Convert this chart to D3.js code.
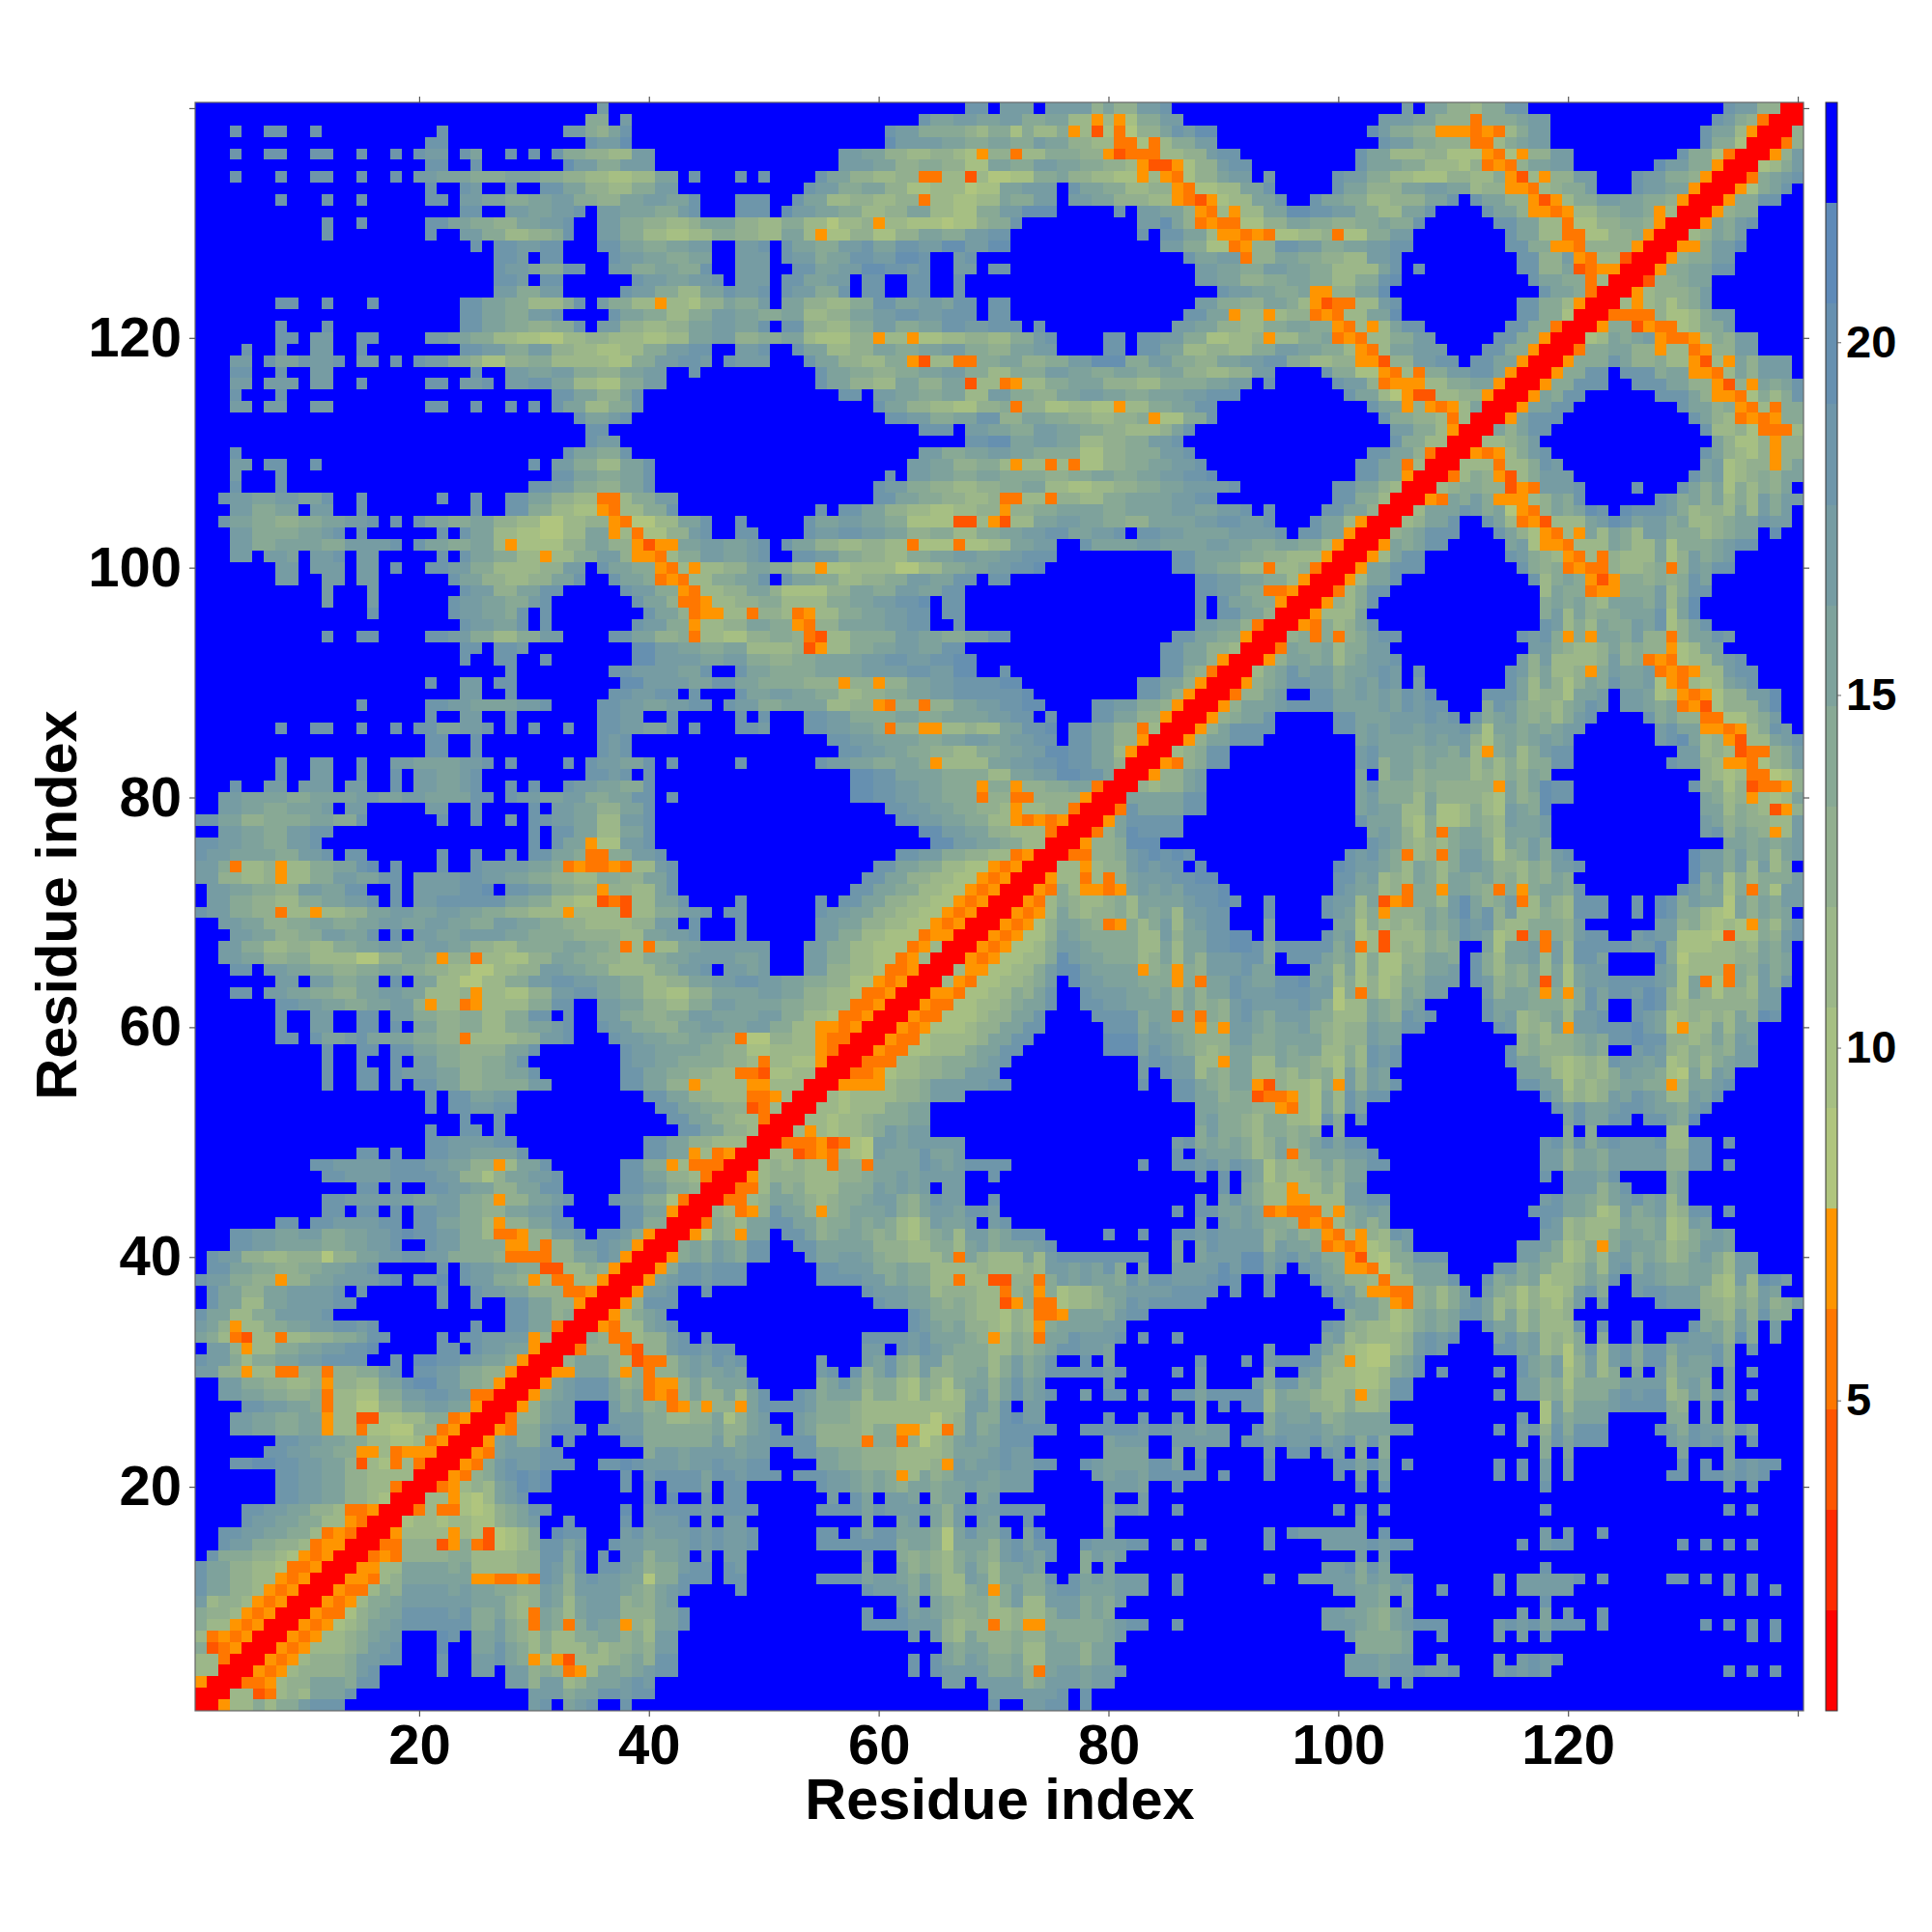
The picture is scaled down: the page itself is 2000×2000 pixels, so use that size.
<![CDATA[<!DOCTYPE html>
<html><head><meta charset="utf-8"><style>html,body{margin:0;background:#fff}svg{display:block}
text{font-family:"Liberation Sans",Arial,sans-serif;font-weight:700;fill:#000}</style>
<script src="https://cdn.jsdelivr.net/npm/d3@7/dist/d3.min.js"></script></head><body>
<svg id="c" width="2000" height="2000"></svg>
<script>
// Distance levels, lowest to highest (one letter per colour band)
const levelKeys = "rstuvabcdefghijz";
const bandColors = ["#ff0000","#ff2a00","#ff5500","#ff7700","#ff9500","#b0c57e","#a6bf83","#9cb789","#92af8f","#88a995","#7ea29c","#769ca3","#6e96aa","#6690b0","#5e8ab8","#0000ff"];
const distanceExtent = [0.6, 23.4];
const colorbarTicks = [5,10,15,20];
const axisTicks = [20,40,60,80,100,120,140];
const labelTicks = [20,40,60,80,100,120];
const residueCount = 140;
// Upper-left half of the symmetric map, rows from residue 140 to residue 1.
// Each token "<x><level>" means: from residue x on, this band.
const matrixRows = [
"1z36g37z68h70z71g74z75g79d80f81d83g85h86z106g107z108f110d112c113e115h117z134h135g137d139r",
"1z35e37z38g39z64h65f67g69f71g73e75f77c79v80c81v82b83e85g87z104g106g107f109d112u113e116f117g119z133h134g135e136d137u138r",
"1z4h5z7h9z11h12z22h23z33g35e36d37f38h39z61h62g64e68d69c70e72b73e74c76e77v78c79t80b81u82a83d85f86h87g88i90z103i104g105e107d109v112u113v114u115c116e117g119z132h133f135c136v137r",
"1z21h23z35h36g38i39z61i62g66f68e70f72e74g75f77d79c81u83b84u85c86e88g90z104h105g107e109d112u114c115e116f117g119z132h133e135b136r",
"1z4h5z7h9z11h13z15h16z18h19z20h21g23z24h25f26z28h29z30h31z32h33e35d37c39g41z57g59f61d63c65d67c68b69v70d72u73c75e78d80v81t82u85c87d89g90h92z102h103f105c108d110b113v114u115b116v117d119g121z130h131e133b134u135r",
"1z21h23z25h26z33i34g36e38g41z57g60f62d64e66d68b70f72e74g76f78e80d82c83v84t86v87b88d90g91h93z102h103f106e108c111b112d113u114v115u116d117f119g121z128i129g131e133v134r",
"1z4h5z8h9z11h13z15h16z18h19z20g22f25e28f31e33d35c37b39c41f43z44h45z48h49z50h51z55h56f58d60c62d64u66c68t69c70a72b74e76f77d79c81b83v84c85v86u87b88d90f91g93z94g95z100h101g103e105c107b110d112c114e115v116t117c118v119d121g123z126h127g129e131d132v133r",
"1z21h22z24h25g26z28h29z31h33f35d37c39e41g43z54h55g57e59f61d63b65c68a69b71f73g76z77h78f80e82c84d86v87u88b90c92f94h95z100h101f103d106f108g110f112c113d115v117u118c119d120e122g123z126h127g129f131v132r",
"1z8h9z12h13z15h16z21h23z24g26f28e30f32g34e36d38f40g42f44h45z48h51z53h54f56c58d60c62d64u65c67b69c71f72e74g76z77g79f81d84c86v87u88t89v90b91c93f95h96z98h99f101e103c105d108f110h111z112h113f115d117v118t119v120c121e123g125f127e129d130v131r",
"1z24h26z28g30f32g34h35z36g38f41e43g44h45z48h51z52i53g55f57e59c61d63f65c67b69e71g73i76z81h82z83g85f87d88v89u90c91v92c94f96i98h100g102e104c106f108h109z113h114f116d117v119u120v121c123e125f127e128v129c130r",
"1z12h13z15h16z21h23f25e27d29f31g33h34z36g38e40d42c44d45f48d50c52e54c56a57c59d60v61c63b66a67b69d70e72h73z83g85i86f87d88u89v90u92b94d96f98e100d102e104f105e107h108z114h116f118c120u121b123d125e127d128v129r",
"1z12h13z21h22z24g26e28c30d32e33h34z36g38e40c42b44c46e48d50c52f54c55v56b58d60b62d64f66e68g70h72z83h84z85h87f89c90v92u93v94u95b97c99d100u101b103e105g107z115h116f118c120u122b124d126e127v128r",
"1z25h26z27h29g31h33z36h38f40e42f44g46z48g50h51z52h53f55e57g59h60f62h64g66i68g70i72z85g87e89b91u92v93d95h97g99e101f103g105h107z115h117e119v121u122d124d126v127r",
"1z27h29g30z31h33z37h38g40f42e44f46z48g51z52h53g55e56f58h60g62i64h65z67g68h69z87h88f90g92u93d95f97e99d101c103g105h106z116h118d120g121v122u123c125t126r",
"1z27h28g30f31e33h35z37g39e41f43e45h46z48g51z53h55f57g59i61h63g64h65z67g69z70h72z88g90f92e94g96f98e100c104f105h106z107h108z116h118d120f121t122u123v125r",
"1z27h29g30z31h33z39h40g42f44g46h47z48g51z52h54f56g58z59h61z63h65z67h68z88g90f92d94e96f98e100c102e104h105i106z117h118f120e122u123c124r",
"1z27g29e31g33z38h39g41e43c45f47h48g50h51z52h53g55e57h58z59h61z63h65z67h68z90h91g93f95e97f98v100d102f104i105z118h119f121e122u123r",
"1z8h10z12h13z16h17z24h26f28e30c33e34h35z36g37e39c41v42c44b45d47f48e50g51z52f54d56c58e60h62f64g66f67h69z70h72z88g90e92d94f96e97c98v99t100u102c104g105h106z116h118e120c121v122r",
"1z24h26f28e30g32h33z37h38f40e42c44e46g48f50e52f54c56d58f60g62h64g66h69z70h72z87h89f91v92c94v95c96d98u99v100u101c103f105i106z116h118e120b121r",
"1z8h9z12h13z24h26f28e30d32e34h35z36g38d40c42d44f46g48f50h51z52h54d56c58e60g62e64f66h68g70h73z74h75z86g88f90d92c94e96f98e100v101u102c103v104c105f106h108z115h117e119u120r",
"1z8h10z11g13z15h17z21g23f25e27c29b31a33c35d37c40b42c44f46g48d50e52f54c55b58d60v61c63v64b66c68d70c72e74g75h76z80h82z83h85g87e89b91c93d94v95c97e99f100u101v102u103c105e107g109z114h116e118v119r",
"1z5h6z8h9z11g13z15h16z24h26g28e30g32d34c36b38c40e42g44h46z48g50h51z53h54f56c58d60f62e64f66g68e70d72f74g76z80h82z83h85f87c89d91c93e95g97f99e101c102v103u104c105f107g110z113h115e117v118r",
"1z4g6z7h8f10h11g13h14z15g17z18h19z20h21g23e25d26b28d30e32c37b39e41g43h45g46z47h48g51z54h55f57d59c61e63v64t65c67u69e71f73d75e77g79i82e84g86e88d90f92g94h96e98c100d102v104t105d107g109h111z112h114f116v117r",
"1z4h6z8h9z11g13z25h26z28g30f32g34e36d38f40g42z44h45z55h56f58e60d62e64f66g68e70c72e75g77f79e81f83e85f87d89c91d93g95z99h100e102b104v105u106c107u108e110g112h114f115v116r",
"1z4g6z7g10z11g13z15h16z21h23z24g26h27z28g30h32f34c36b38e40g42z55h56f58d60c62f64d66f68t69c71u72v73c75e77f80d83c85e89f91g93z94h95z100h101g103d104u105v108c110e112f114v115r",
"1z4h5z8h9z32h34f36d38f39h40z57h59z60g62f64e66f68c70g72e74d76f78g80f82e84f87g89h92z101h102f104c105a106v107t109c111d113v114r",
"1z4g6z7g9z11g13z21h23z25h26z28h29z30h31z32h33f35c37e39h40z60h61f63d65c67b69d71e72u73d75b77c79b81v82c84e86f88h90z103h104f106v107d108v109u110v111c112f113r",
"1z34h35f37g38h39z61h63g65e67f69h71d73f75e77d79c81d83e84v85b87e89h90z104h105e107d109c110u111c112r",
"1z35h37z64h67z68g70f72e74g76f78e80d82c85d86f87h88z105g107e109c110v111r",
"1z35h36g38z68h70i72f74g76f78c80d82e84g86h87z105h106e108c110r",
"1z4h5z33h34f36e38h39z64g66e68f70g72f74e76e78b80d82e85g87h88z103h105f107d108u109r",
"1z4g6z7h9z11h12z30h31z32g34e36c38f40h41z63g65f67d69e71c72v73c75u76c77u78b80d82e84f86g88h89z102h104f106u107c108r",
"1z4g5z8h9z32h34f36e38f40h41z61h62z63g65f67e69f71e75d77e79f81e83f85g87h89i90z102h104f106v107r",
"1z4h5z8h9z30h32g34e36d38f40h41z60h61g63e65d67c69d71e73f75c77b79c81d83e85f87g91h92z100h102f104d105c106r",
"1z3h4g6f8g10f12h13z15h16z22h23z25h26z28h30f32d34c36u38c39e41g43z60h62f64e66d68c70d71u73c75u76d78c80e82f84f86g88h90z100h102e104c105r",
"1z4g6e8f10z11g13z15h16z25h26z28h30e32c34b36v37u38c40e42h43z55h56z57h59f61d63c65b67c69d71v72d74e76f80e82f84f86g88f90g92h93z94h95z99h101f103d104r",
"1z3h4f6e8d10e12f14g16h17z18h19z20h21f23e25f27d29c31a33c35d37v38u39a41c43f45h46z48h49z54h55f57g59f61e63b67t69c70v71t72c74f76g78f80e82d84f88g90h92g94h95z98h99f101c102v103r",
"1z4g6e10f12g13h14z15h16z22h23z24h25f27c29b31a33c35f37v38c39u40b42d44g45h46z48h50z54h55g57h59g61f63d65e67c69e71f73g75h77f79g81h82z83h85g87f91g95h96z97h99f101v102r",
"1z4g6e8f12e14g18h19z20h21f23e25f27c28v29b33d35f37d39v40t41v43f45g47f49g50h51z52h53f55d57c59d61c63u64b67u68b70c72f74g76z78h79f83g85f89g91f93e95f97e99c100v101r",
"1z4g6z7g9f10z11g13h14z15g17z22h23z24h25f27e29c31v32c34e36g38d39v41u42c43e45g47f49g50h51z53h55g57e59d61c63e65f67g69f71g73h76z86h88f92e94d96c99v100r",
"1z8g10z11g14z15g17z18h19z21h23g25e27c31d33g35z36h37f39e41v42u43c44v45c47d49f51e53c55v56b58c62a64c66e68f70g72h74i75z86h88f90e92c94u95c97d98u99r",
"1z8g10z12g14z15g17z23h24f26d28c30d32f34h35z37h38f40e41u42v43u44c46e48f50h51z52h53f55e57c59d61e63g65f67h69z70h72z88h90g92f94e96c97v98r",
"1z12g13z16g17z24h25g27d29f31h33z38h39g41e43v44u45c47d49f51d52b56d58f60e62g64f66h68z88h90g92e94u96v97r",
"1z12g13z16g17z23h24g26f28e30g31h32z39h40f42d43u45v46c48d50e52c56e58f60g62h64i65z66h68z88h89z90h91f93e95v96r",
"1z16h17z23h24g26f28e29h30z31h32z40h41f43d44u45v47c49u50d52c53u54v55c57e59f61g63h65z66h68z88h89z90h92f94d95r",
"1z24h25g27f29h30z31h32z39h40g42e44v45c47d49f51e53v54u55d57f61g63h65z67h68z88g90f92d93u94r",
"1z12h13z15h17z21h23g25e27c29e31g33z37h39f41d43e44u45c47b49d51e53d54u55t56c58e62g64f66e68f70h72z86h88f90e92v93r",
"1z24h26z27h29g30z39i41g43f45e47f49c53d54t55v56c58e60f62g64f66h68z85h87f89d91c92r",
"1z24h25z27h29z31h32z39i41g45f47g49e51d53e55f59g61h63g65h67i69z85h87f89d90v91r",
"1z28h29z37h39g43f45h46z48h49f51e55f59g63h65g67i69z71h72z85h87e88d89u90r",
"1z21h22z24g26z27h29z38i40g44f46h48f50e54d57v58d60v61d63f65g67h71i73z83h85f87d88v89r",
"1z24g26z28h29z37h39g41h43z44h45z48h49f51g53f55e57c59d61e63f65g67h71h73i74z83h85f86d87v88r",
"1z15h16z21h23g25f29g31h32z36h38g40f42g44h46z47h48g50e52f56c58d60v61u62d64u65d67f69g71h73i75z79h81g83e85d86v87r",
"1z21h22z24g26z28h29z36h38g40z42h43z48h49z50h51z54h56g58e62f64e66f70g72h74z75h76z79h81f83d85v86r",
"1z8h9z11h13z15h16z18h19z20h22f24g26h27z28h29z30h31z33h34z36h38g40f42h43z44h45z48h50g51z54h56g58f60e61u62d64v66c68d69c71f73h75i76z77h79f81d83u84c85r",
"1z21h23z25h26z36h37g38h39z56h58g60f64e66f68g70f72g74h76z77h79f81d83v84r",
"1z21h23z25h26z36h37g38h39z57h59g61f63e65d67c69e71f73g75i77h79f81c82v83r",
"1z8h9z11g13z15h16z18g20f24g26h27z28h29z33h34z35h36g38f40h41z42h43z48h49z55h56g58f60e62f64e65v66c70f72g74h76i77h79f81d82r",
"1z8h9z11g13z15h16z18h19z20g22f24g25h26z35h37g38h39z40h41z58i60h62f66e70c72f74g76i78h80f81r",
"1z4h5z7g9z10g13z14g16z18h19z20g22f24g25h26z28h29z30h31z33h34g36f38e40h41z58i60h62g64f66e69v70e72v73d75e77f79u80r",
"1z3g5f9e11f15g17f19g21f25h27z28h29g31f33g35e37f39h41z42h43z58i60h62g64f66e69u70d72u74d78v79r",
"1z3g5f7e9f12g13z14g16z21g23z25h26z30h31z32g34f36d38f40h41z61h63g65f67e69d71c72v73c75d77u78r",
"1h3f5d7e11f13e15h16z22h23z25h26z28g29z30h32g34f36c38g40h41z62h64g66f68e70c72v73u74v75u76v77r",
"1z3g5f7e9g11h13z30h31z32h34f36c38f40h41z64i66g68f70d72c75u76r",
"1h3g5f7e9g11h12z30h31z32h33f35v36b38g40h41z65i67g69f71e73c75r",
"1h2g4f8e10g12h13z14h16z22h23z25h26z28h29z30h32f34e35u37e39g41h42z62h64g66e68d70c72u73v74r",
"1g3e4u5c7d8v9c11e13f15h16i17z18h19z22h23z25h26g30f32e33u34v35u37v38u39c41g42h43z60h62f64e66c68b70v71u72v73r",
"1g3d5c7d8v9c11e13g15f17h19z20g24h26g28f30e32d34c36e38d40f42h43z59h61f63d65c67b69v70u71v72r",
"1z2g4f6e8d10g12f14h16z18h19z20g24h26i27z28h30g32e34d36v37d39c41f42h43z58h60f62e64c66b68v69u70v71r",
"1z2g4e6d8c10e12f14g16h17z18h19z20g22h28f30e32c34b36t37u38t39c41f43h44z48h49z55h56z57h59f61d63c65b67v68u69v70r",
"1h2g4e6d8u9c11v12c14d16f18g20f22g24f26e28d30c33v34c38t39c41e43g45h46z47h49z55h56g58f60d62c64b66v67u68v69r",
"1z3g5f7d9e11f13e15f17g19f21g23f25e27g29f31e33d35c39d41g43z44h45z48h49z55g57f59d61c63b65v66u67v68r",
"1z4g6f8d10e12g14f16h17z18h19z20g22f24g28f30e34d38c40f42g44h45z48h49z55g57e59c61b64u65v67r",
"1z3g5e7c9d11c13e15f17g19f21g23f25d27c29e33f35e37d38u39c40u41c43f45g51z54g56e58c60b63u64v65c66r",
"1z3g5f7d9e11c15a17d19f21e22v23d25u26c28b30d32f34e36d38c40e42f44g46g48f50g51z54g56e58c60b62u63v64c65r",
"1z4h6z7g9f11e13d15e17f19e21d23c25a27c29d31g33f35e37c41e43g45h46z47g49f50g51z54g56d58c60b61u63v64r",
"1z8g10z11g13e15f17z18h19z20f22c24a26c28e30g32h34g36f38e40c42d44f46g48h50g52f54e56d58b60v61u62v63r",
"1z4h6z7g9f11e13d15f17g19f21c24d25v26c28b30d32g34h36f38e40c42b44d46f50g52f54d56c58b59u61v62r",
"1z8h10g12f14e16f18g20d21v22c24u25v26c30e32h34z36g38f40d42c44e46g48f52e54d56c58u60v61r",
"1z8h9z11g13z15h17z18g20e22d24e26c28e30h32z33h34z36g38e40d42e44g46f50g52e54c56b57u59v60r",
"1z8h9z11g13z15h17z18h19z20f22d24e26c28e30f32g33h34z36h37g39e41d43f45g47f49g51e53c55v57u58v59r",
"1z8h10z11h12f14g15h16f20e22d24u25c29d31g33h34z37h38g40f42e44f46e48u49a51d53c55v56u58r",
"1z12h13z15h17z18h20f22e24d28f30h31z38h39g41f45e47d49b51c55v56u57r",
"1z12h13z15h16z18h19z20g22e24d26e28f29h30z38h39g41f43e47d49c50u51c53b55v56r",
"1z12h13z15h17z18h19g22f24d26e28f30h31z38h40f42e44d46c48u50t51b53c55r",
"1z12h13z15h17z18h19z20h22f24d26e30g32z38h40f42d44v45c49v51c54r",
"1z21h22z23h25f27g29z40h42f44d46c49u51v52c53r",
"1z21h22z23h25g27h29z41h43f45e47d49t50u51c52r",
"1z24h25z27h28z42h44f46d48c50u51r",
"1z21h22z24h26z27h28z43h45f47d49c50r",
"1z21h23g27h29z40h42f44d46c49r",
"1z15h17z18h19z21h23g25f29h30z40h42f44v45c46u47v48r",
"1z11h13g18h21g23f25d27v28c29f31h32z38h40e42v43c44u47r",
"1z12h14g18h20h22g24d26b27d28f30g32h33z38h40f42d44c45u46r",
"1z15h17z18h19z21h23g25f27d29f31h33z38h40g42e44d45r",
"1z12h14g18g20f22g24e26d27v28d30f32g33h34z37h38g40e42b43u44r",
"1z12h14z15h17z18h19z20h22g24e26d28f30g32h33z38h40f42v43r",
"1z8h10z11h13g17h19z20h22f24e26c27v28d30f32h34z38h40e42r",
"1z4h6g8f10g12e14f16g18h19i20h22g24e26c27u29v30d32g34h35z36h38g39e40v41r",
"1z4h6g8f12e14f16g18h19z21h22g24e28v30d31u32d34g36h37g38f39v40r",
"1z2h3g5d7c9d12a13d15f17g19h21g23e27d28u32d34f36h37g38v39r",
"1z2h4f6e8d10e12f14g16h17z22h23z24h25g27f29e31t33c35e36d37v38r",
"1h2g4e6d8v9d11f13g17h18i19z20h22i23z24h25g27e29d30v31c32u34c36v37r",
"1z2h3f5d7f9g13h14z15h16z22h23z25h26g28f30d33u35v36r",
"1z2h3f5c7f9g13h15z22h23z25h26z28h30f32d34v35r",
"1h2f4c6e8g12h13z28h30f32d33e34r",
"1g2f3d4v5c7e9f11g13h15g16h17z25h26z28h30f32u33r",
"1f2e3c4u5t6c8u9c11d13e15f16h18z22h23z24h26g30v31d32r",
"1z2g4d5v6c8e10f12g14h16i17z22h24z25h26g28f30v31r",
"1h2g4e5c6e8f10g12h16z18h19z20i22h24g26f28e29v30r",
"1g3d5v6c8u10d12u13d15e17g18h19z20h22g24e26d28v29r",
"1z3g5e7d9c11d12v13d15c17f19h20i22g24e26d27v28r",
"1z3g5f7e9d11e12u13c15b17e19g21h23g25u27r",
"1z5h7g9f11e12u13c15a17d19f21g23f25v26r",
"1z4g6f8e10f12v13c15t17b19c21e23u24v25r",
"1z4g6f8e10f12v13c15u16b18a20d22u23v24r",
"1z8h10g12f14e16c18b20c21u22v23r",
"1z7h9g11f13e15v17c18u19v22r",
"1z4h6i8h10g12f14d15t16c17b18u19c20u21r",
"1z8h10g12f14d16c20r",
"1z8h10g12f14d16c18u19r",
"1z8h10g12f14d16c17b18r",
"1z5h7g9f11d13c14u16v17r",
"1z5h6g8f10e12c14v15u16r",
"1z3h5g7f9e11c12u13v14u15r",
"1z3h4g6e8d10c11u12v14r",
"1z2h3e6d8c9b10v11u12v13r",
"1h2f4d6c8b9u11v12r",
"1h2f4d6c8v9u10v11r",
"1h2f4d6c7v8u9v10r",
"1g2c3d5c6v7u8v9r",
"1e2d4c5v6u7v8r",
"1e2c4v5u6v7r",
"1c2u3v4u5v6r",
"1e2t3u4v5r",
"1c3u4r",
"1c3r",
"1v2r",
"1r",
"1r"
];

const L = 202, R = 1867, T = 106, B = 1771;
const svg = d3.select("#c");
const x = d3.scaleLinear().domain([0.5, residueCount + 0.5]).range([L, R]);
const y = d3.scaleLinear().domain([0.5, residueCount + 0.5]).range([B, T]);
const step = (distanceExtent[1] - distanceExtent[0]) / bandColors.length;
const valueOf = k => distanceExtent[0] + (levelKeys.indexOf(k) + 0.5) * step;
const color = d3.scaleQuantize().domain(distanceExtent).range(bandColors);

// expand the rows into cells
const cells = [];
matrixRows.forEach((row, k) => {
  const yi = residueCount - k;
  const toks = [...row.matchAll(/(\d+)([a-z])/g)].map(m => [+m[1], m[2]]);
  toks.forEach((t, n) => {
    const end = Math.min(n + 1 < toks.length ? toks[n + 1][0] - 1 : yi, yi);
    for (let xi = t[0]; xi <= end; xi++) {
      const v = valueOf(t[1]);
      cells.push({xi, yi, v});
      if (xi !== yi) cells.push({xi: yi, yi: xi, v});
    }
  });
});
svg.append("g").attr("shape-rendering","crispEdges").selectAll("rect").data(cells).join("rect")
  .attr("x", d => x(d.xi - 0.5)).attr("y", d => y(d.yi + 0.5))
  .attr("width", d => x(d.xi + 0.5) - x(d.xi - 0.5) + 0.3)
  .attr("height", d => y(d.yi - 0.5) - y(d.yi + 0.5) + 0.3)
  .attr("fill", d => color(d.v));

svg.append("rect").attr("x",L).attr("y",T).attr("width",R-L).attr("height",B-T)
  .attr("fill","none").attr("stroke","#666").attr("stroke-width",1.2);

function styleAxis(g){ g.select(".domain").remove(); g.selectAll(".tick line").attr("stroke","#555").attr("stroke-width",1.2); g.selectAll("text").style("font-size","58px").style("font-family",'"Liberation Sans"').style("font-weight",700).attr("fill","#000"); }
svg.append("g").attr("transform",`translate(0,${B})`).call(d3.axisBottom(x).tickValues(axisTicks).tickSize(6).tickPadding(8).tickFormat(d=>labelTicks.includes(d)?d:"")).call(styleAxis);
svg.append("g").attr("transform",`translate(${L},0)`).call(d3.axisLeft(y).tickValues(axisTicks).tickSize(6).tickPadding(8).tickFormat(d=>labelTicks.includes(d)?d:"")).call(styleAxis);
svg.append("g").attr("transform",`translate(0,${T})`).call(d3.axisTop(x).tickValues(axisTicks).tickSize(6).tickFormat("")).call(styleAxis);
svg.append("g").attr("transform",`translate(${R},0)`).call(d3.axisRight(y).tickValues(axisTicks).tickSize(6).tickFormat("")).call(styleAxis);

svg.append("text").attr("x",1035).attr("y",1883).attr("text-anchor","middle").style("font-size","59.5px").text("Residue index");
svg.append("text").attr("transform","translate(79,937) rotate(-90)").attr("text-anchor","middle").style("font-size","59.5px").text("Residue index");

// colour bar
const cbL = 1890, cbR = 1902;
const cy = d3.scaleLinear().domain(distanceExtent).range([B, T]);
svg.append("g").attr("shape-rendering","crispEdges").selectAll("rect").data(bandColors).join("rect")
  .attr("x",cbL).attr("width",cbR-cbL)
  .attr("y",(d,i)=>cy(distanceExtent[0]+(i+1)*step))
  .attr("height",(d,i)=>cy(distanceExtent[0]+i*step)-cy(distanceExtent[0]+(i+1)*step)+0.3)
  .attr("fill",d=>d);
svg.append("rect").attr("x",cbL).attr("y",T).attr("width",cbR-cbL).attr("height",B-T).attr("fill","none").attr("stroke","#333").attr("stroke-width",1);
svg.append("g").attr("transform",`translate(${cbR},0)`).call(d3.axisRight(cy).tickValues(colorbarTicks).tickSize(4).tickPadding(5).tickFormat(d3.format("d"))).call(g=>{g.select(".domain").remove();g.selectAll(".tick line").attr("stroke","#666");g.selectAll("text").style("font-size","47px").style("font-family",'"Liberation Sans"').style("font-weight",700).attr("fill","#000");});
</script></body></html>]]>
